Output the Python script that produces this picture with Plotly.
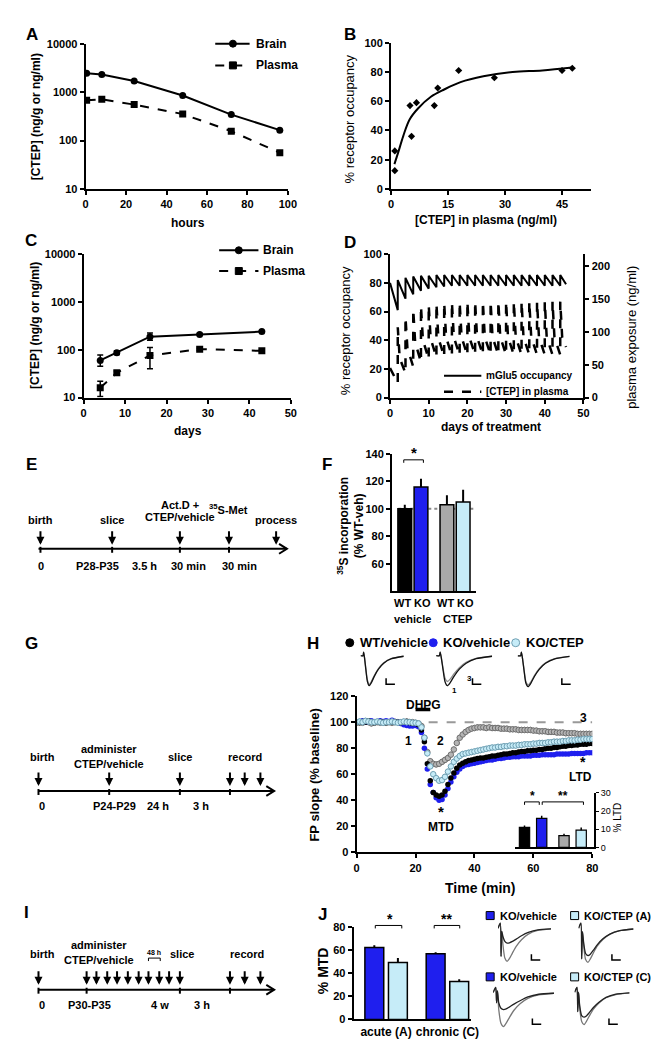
import plotly.graph_objects as go

W, H = 663, 1050
FONT = "Liberation Sans"
BLUE = "#1f1fee"
LIGHT = "#c6ecf8"
GRAY = "#a9a9a9"

# ---------------- data ----------------
# A: single dose, hours
A_HOURS = [0.5, 8, 24, 48, 72, 96]
A_BRAIN = [2440, 2320, 1690, 850, 343, 164]
A_PLASMA = [676, 710, 552, 352, 156, 56]

# B: occupancy vs plasma
B_CTEP = [1.0, 1.0, 5.0, 5.4, 6.7, 11.4, 12.3, 17.8, 27.2, 45.0, 47.7]
B_OCC = [26, 12.5, 57, 36, 59, 57, 69, 81, 76, 81, 82.5]
B_FIT_X = [0.9, 1.9, 3.2, 4.9, 7.1, 10.5, 14, 18.3, 24.3, 32, 39.8, 47.6]
B_FIT_Y = [17, 25, 36, 47.5, 55, 63, 68, 73, 77, 80, 81, 83]

# C: chronic dosing, days
C_DAYS = [4, 8, 16, 28, 43]
C_BRAIN = [60, 87, 188, 210, 240]
C_BRAIN_UP = [18, 8, 37, 8, 8]
C_BRAIN_DN = [15, 7, 30, 7, 7]
C_PLASMA = [16, 33, 76, 103, 95]
C_PLASMA_UP = [6, 3, 35, 5, 4]
C_PLASMA_DN = [5.5, 3, 36, 5, 4]

# D: simulated occupancy / plasma over treatment
D_DOSE_DAYS = [2, 4, 6, 8, 10, 12, 14, 16, 18, 20, 22, 24, 26, 28, 30, 32, 34, 36, 38, 40, 42, 44]
D_OCC_START = 80
D_OCC_TROUGH = [61, 69, 72, 74.5, 76, 77, 77.5, 78, 78, 78, 78, 78, 78, 78, 78, 78, 78, 78, 78, 78, 78, 78]
D_OCC_PEAK = [82, 83.5, 84.5, 85, 85, 85.5, 85.5, 85.5, 85.5, 85.5, 85.5, 85.5, 85.5, 85.5, 85.5, 85.5,
              85.5, 85.5, 85.5, 85.5, 85.5, 85.5]
D_OCC_END = (45.5, 79)
D_PL_START = 45
D_PL_TROUGH = [22, 37, 47, 54, 58, 61, 62, 63, 64, 64, 65, 65, 65, 65, 65, 65, 65, 65, 65, 65, 65, 65]
D_PL_PEAK = [107, 122, 134, 139, 141, 143, 144, 145, 145, 146, 146, 146, 146, 146, 146, 146, 146, 146,
             146, 146, 146, 146]
D_PL_KNEE = [60, 75, 84, 88, 90, 91, 92, 92, 92, 92, 92, 92, 92, 92, 92, 92, 92, 92, 92, 92, 92, 92]
D_PL_END = (45.5, 77)

# F: 35S incorporation
F_LABELS = ["WT", "KO", "WT", "KO"]
F_VALUES = [100, 116, 103, 105]
F_ERR = [3, 6, 7, 9]

# H: FP slope time course (1-min bins)
H_TIME = list(range(81))
H_WT_VEH = [100, 99.5, 100.5, 100, 101, 100, 99.5, 100, 100.5, 100,
            99.5, 100, 100, 100.5, 100, 99.5, 100, 100.5, 99.5, 99,
            99, 98, 94, 85, 68, 55, 46, 44, 43, 44,
            47, 52, 57, 61, 64.5, 67, 68.5, 69.5, 70.5, 71,
            71.5, 72, 72.5, 72.5, 73, 73.5, 74, 74, 74.5, 75,
            75.5, 75.5, 76, 76.5, 76.5, 77, 77.5, 77.5, 78, 78,
            78.5, 78.5, 79, 79, 79.5, 80, 80, 80.5, 80.5, 81,
            81.5, 81.5, 82, 82, 82.5, 82.5, 83, 83, 83, 83.5,
            83.5]
H_KO_VEH = [100, 100.5, 101, 100, 100.5, 101, 100, 100.5, 101, 100.5,
            101, 100.5, 101.5, 100.5, 100, 99, 98, 97.5, 97, 97,
            97.5, 96.5, 92, 80, 64, 52, 46, 42, 40, 40.5,
            44, 49, 54, 58, 61.5, 64, 66, 67, 67.5, 68,
            68.5, 69, 69.5, 70, 70.5, 71, 71, 71.5, 72, 72,
            72.5, 73, 73, 73.5, 73.5, 73.5, 74, 74, 74, 74,
            74.5, 74.5, 74.5, 75, 75, 75, 75, 75, 75.5, 75.5,
            75.5, 75.5, 75.5, 76, 76, 76, 76, 76, 76.5, 76.5,
            76.5]
H_KO_CTEP = [100, 100.5, 100, 101, 100.5, 100, 100, 100.5, 100, 99.5,
             100, 100, 100.5, 100, 99.5, 100, 100.5, 100, 100, 99.5,
             99.5, 99, 96, 88, 76, 66, 60, 57, 55, 55.5,
             58, 62, 66, 69.5, 72, 74, 75.5, 76, 76.5, 77,
             77.5, 78, 78.5, 79, 79.5, 80, 80.5, 80.5, 81, 81,
             81.5, 81.5, 82, 82, 82, 82.5, 82.5, 83, 83, 83,
             83.5, 83.5, 84, 84, 84, 84.5, 84.5, 85, 85, 85,
             85.5, 85.5, 86, 86, 86, 86.5, 86.5, 87, 87, 87,
             87]
H_WT_CTEP = [99.5, 100, 99.5, 100.5, 100, 99, 99.5, 100, 99.5, 100,
             99.5, 100, 99.5, 100, 100, 99.5, 100, 100.5, 100, 100,
             99.5, 99, 97, 88, 77, 70, 68, 67.5, 68, 69.5,
             71, 72.5, 75, 79, 84, 88, 90.5, 92.5, 94, 95,
             95.5, 96, 96, 96, 95.5, 96, 95.5, 95.5, 95.5, 95,
             95, 95, 94.5, 94.5, 94.5, 94, 94, 94, 94, 94,
             93.5, 93.5, 93, 93, 93, 92.5, 92.5, 92.5, 92, 92,
             92, 91.5, 91.5, 91.5, 91.5, 91, 91, 91, 91, 91,
             91]
H_SEM = 2.5
BASELINE = 100
DHPG_START, DHPG_END = 20, 25

# H inset: % LTD
LTD_VALUES = [11, 16, 6.5, 9.5]
LTD_ERR = [1, 1.5, 1, 1.5]

# J: % MTD
MTD_GROUPS = ["acute (A)", "chronic (C)"]
MTD_VALUES = [62.5, 49.5, 57, 33]
MTD_ERR = [2, 4, 1.5, 2]

# example sweeps (normalised amplitude)
WF_T_H = [0, 0.8, 1.0, 1.3, 1.7, 2.2, 2.8, 3.5, 4.5, 5.8, 7.5, 10, 14]
WF_WT_1 = [0, 0, 0.12, -0.08, -0.45, -0.85, -1.0, -0.9, -0.68, -0.45, -0.25, -0.1, -0.02]
WF_WT_3 = [0, 0, 0.12, -0.08, -0.42, -0.8, -0.96, -0.86, -0.65, -0.43, -0.24, -0.1, -0.02]
WF_KO_1 = [0, 0, 0.12, -0.08, -0.45, -0.86, -1.0, -0.9, -0.68, -0.45, -0.25, -0.1, -0.02]
WF_KO_3 = [0, 0, 0.12, -0.08, -0.4, -0.74, -0.86, -0.78, -0.6, -0.4, -0.22, -0.09, -0.02]
WF_CT_1 = [0, 0, 0.12, -0.08, -0.46, -0.88, -1.0, -0.9, -0.67, -0.44, -0.24, -0.1, -0.02]
WF_CT_3 = [0, 0, 0.12, -0.08, -0.43, -0.83, -0.94, -0.85, -0.64, -0.42, -0.23, -0.09, -0.02]

WF_T_J = [0, 0.6, 0.8, 1.0, 1.3, 1.8, 2.4, 3.0, 3.8, 4.8, 6.2, 8, 10.5, 14]
WF_JA_VEH_BIG = [0, 0.15, -0.85, -0.1, -0.5, -0.9, -1.0, -0.92, -0.75, -0.55, -0.35, -0.18, -0.07, -0.02]
WF_JA_VEH_SMALL = [0, 0.15, -0.85, -0.1, -0.25, -0.4, -0.45, -0.44, -0.4, -0.33, -0.23, -0.13, -0.05, -0.02]
WF_JA_CT_BIG = [0, 0.15, -0.9, -0.1, -0.5, -0.92, -1.0, -0.9, -0.72, -0.52, -0.33, -0.17, -0.07, -0.02]
WF_JA_CT_SMALL = [0, 0.15, -0.9, -0.1, -0.42, -0.74, -0.8, -0.76, -0.64, -0.48, -0.31, -0.17, -0.07, -0.02]
WF_JC_VEH_BIG = [0, 0.15, -0.3, 0.05, -0.5, -0.9, -1.0, -0.9, -0.72, -0.52, -0.33, -0.17, -0.07, -0.02]
WF_JC_VEH_SMALL = [0, 0.15, -0.3, 0.05, -0.3, -0.46, -0.5, -0.48, -0.42, -0.34, -0.24, -0.13, -0.05, -0.02]
WF_JC_CT_BIG = [0, 0.15, -0.6, 0.0, -0.5, -0.9, -1.0, -0.9, -0.72, -0.52, -0.33, -0.17, -0.07, -0.02]
WF_JC_CT_SMALL = [0, 0.15, -0.6, 0.0, -0.42, -0.72, -0.77, -0.73, -0.62, -0.47, -0.31, -0.16, -0.06, -0.02]

# ---------------- helpers ----------------
ann = []
shapes = []


def px(x):
    return x / W


def py(y):
    return 1 - y / H


def xd(a, b):
    return [a / W, b / W]


def yd(top, bottom):
    return [1 - bottom / H, 1 - top / H]


def txt(x, y, s, size=11, bold=True, angle=0, xanchor="center", color="black"):
    ann.append(dict(x=px(x), y=py(y), xref="paper", yref="paper", text=s, showarrow=False,
                    xanchor=xanchor, yanchor="middle", textangle=angle,
                    font=dict(family=FONT, size=size, color=color,
                              weight="bold" if bold else "normal")))


def seg(x0, y0, x1, y1, width=1.5, color="black", dash="solid"):
    shapes.append(dict(type="line", xref="paper", yref="paper", x0=px(x0), y0=py(y0),
                       x1=px(x1), y1=py(y1), line=dict(color=color, width=width, dash=dash)))


def path(points, width=1.5, color="black"):
    d = "M" + " L".join(f"{px(a):.5f},{py(b):.5f}" for a, b in points)
    shapes.append(dict(type="path", xref="paper", yref="paper", path=d,
                       line=dict(color=color, width=width)))


def dot(x, y, r, fill, edge="black", kind="circle"):
    shapes.append(dict(type=kind, xref="paper", yref="paper", xsizemode="pixel", ysizemode="pixel",
                       xanchor=px(x), yanchor=py(y), x0=-r, x1=r, y0=-r, y1=r,
                       fillcolor=fill, line=dict(color=edge, width=1)))


def down_arrow(x, tip, length=15):
    ann.append(dict(x=px(x), y=py(tip), xref="paper", yref="paper", ax=0, ay=-length, text="",
                    showarrow=True, arrowhead=2, arrowwidth=2, arrowsize=0.8, arrowcolor="black"))


def timeline(y, x0, x1, ticks):
    seg(x0, y, x1, y, width=2)
    path([(x1 - 8, y - 5), (x1, y), (x1 - 8, y + 5)], width=2)
    for t in ticks:
        seg(t, y - 2, t, y + 4, width=2)


def scalebar(x, y):
    path([(x, y - 6), (x, y), (x + 9, y)], width=1.5)


def bracket(x0, x1, y):
    path([(x0, y + 3), (x0, y), (x1, y), (x1, y + 3)], width=1)


def axis(**kw):
    d = dict(showline=True, linecolor="black", linewidth=2, ticks="outside", ticklen=4,
             tickwidth=2, tickcolor="black", showgrid=False, zeroline=False, fixedrange=True,
             tickfont=dict(family=FONT, size=11, color="black", weight="bold"))
    d.update(kw)
    return d


def hidden(**kw):
    d = dict(visible=False, fixedrange=True)
    d.update(kw)
    return d


fig = go.Figure()

# ---------------- A ----------------
fig.add_trace(go.Scatter(x=A_HOURS, y=A_BRAIN, mode="lines+markers", xaxis="x", yaxis="y",
                         line=dict(color="black", width=2), marker=dict(symbol="circle", size=7, color="black")))
fig.add_trace(go.Scatter(x=A_HOURS, y=A_PLASMA, mode="lines+markers", xaxis="x", yaxis="y",
                         line=dict(color="black", width=2, dash="dash"),
                         marker=dict(symbol="square", size=7, color="black")))

# ---------------- B ----------------
fig.add_trace(go.Scatter(x=B_FIT_X, y=B_FIT_Y, mode="lines", xaxis="x2", yaxis="y2",
                         line=dict(color="black", width=2, shape="spline")))
fig.add_trace(go.Scatter(x=B_CTEP, y=B_OCC, mode="markers", xaxis="x2", yaxis="y2",
                         marker=dict(symbol="diamond", size=5.5, color="black")))

# ---------------- C ----------------
fig.add_trace(go.Scatter(x=C_DAYS, y=C_BRAIN, mode="lines+markers", xaxis="x3", yaxis="y3",
                         line=dict(color="black", width=2), marker=dict(symbol="circle", size=7, color="black"),
                         error_y=dict(type="data", array=C_BRAIN_UP, arrayminus=C_BRAIN_DN,
                                      color="black", thickness=1.5, width=3)))
fig.add_trace(go.Scatter(x=C_DAYS, y=C_PLASMA, mode="lines+markers", xaxis="x3", yaxis="y3",
                         line=dict(color="black", width=2, dash="dash"),
                         marker=dict(symbol="square", size=7, color="black"),
                         error_y=dict(type="data", array=C_PLASMA_UP, arrayminus=C_PLASMA_DN,
                                      color="black", thickness=1.5, width=3)))

# ---------------- D ----------------
occ_x, occ_y = [0], [D_OCC_START]
for day, lo, hi in zip(D_DOSE_DAYS, D_OCC_TROUGH, D_OCC_PEAK):
    occ_x += [day, day]
    occ_y += [lo, hi]
occ_x.append(D_OCC_END[0])
occ_y.append(D_OCC_END[1])
pl_x, pl_y = [0], [D_PL_START]
for day, lo, hi, knee in zip(D_DOSE_DAYS, D_PL_TROUGH, D_PL_PEAK, D_PL_KNEE):
    pl_x += [day, day, day + 0.5]
    pl_y += [lo, hi, knee]
pl_x.append(D_PL_END[0])
pl_y.append(D_PL_END[1])
fig.add_trace(go.Scatter(x=pl_x, y=pl_y, mode="lines", xaxis="x4", yaxis="y5",
                         line=dict(color="black", width=2.5, dash="dash")))
fig.add_trace(go.Scatter(x=occ_x, y=occ_y, mode="lines", xaxis="x4", yaxis="y4",
                         line=dict(color="black", width=2)))

# ---------------- F ----------------
F_POS = [1, 2, 3.6, 4.6]
fig.add_trace(go.Bar(x=F_POS, y=F_VALUES, xaxis="x6", yaxis="y6", width=0.85,
                     marker=dict(color=["black", BLUE, GRAY, LIGHT], line=dict(color="black", width=1.5)),
                     error_y=dict(type="data", array=F_ERR, arrayminus=[0] * 4, symmetric=False,
                                  color="black", thickness=2, width=0)))

# ---------------- H ----------------
fig.add_trace(go.Scatter(x=H_TIME, y=H_WT_CTEP, mode="markers", xaxis="x7", yaxis="y7",
                         marker=dict(size=5.5, color="#b4b4b4", line=dict(color="#6e6e6e", width=1)),
                         error_y=dict(type="constant", value=H_SEM, color="#b4b4b4", thickness=1, width=0)))
fig.add_trace(go.Scatter(x=H_TIME, y=H_KO_VEH, mode="markers", xaxis="x7", yaxis="y7",
                         marker=dict(size=5.5, color=BLUE)))
fig.add_trace(go.Scatter(x=H_TIME, y=H_WT_VEH, mode="markers", xaxis="x7", yaxis="y7",
                         marker=dict(size=5.5, color="black")))
fig.add_trace(go.Scatter(x=H_TIME, y=H_KO_CTEP, mode="markers", xaxis="x7", yaxis="y7",
                         marker=dict(size=5.5, color=LIGHT, line=dict(color="#6f9fb2", width=1)),
                         error_y=dict(type="constant", value=H_SEM, color="#9fd3ea", thickness=1, width=0)))
shapes.append(dict(type="line", xref="x7", yref="y7", x0=0, x1=80, y0=BASELINE, y1=BASELINE,
                   line=dict(color="#999999", width=2, dash="dash"), layer="below"))
shapes.append(dict(type="rect", xref="x7", yref="y7", x0=DHPG_START, x1=DHPG_END, y0=108.4, y1=111,
                   fillcolor="black", line=dict(width=0)))

# H inset
LTD_POS = [1, 2, 3.3, 4.3]
fig.add_trace(go.Bar(x=LTD_POS, y=LTD_VALUES, xaxis="x8", yaxis="y8", width=0.6,
                     marker=dict(color=["black", BLUE, GRAY, LIGHT], line=dict(color="black", width=1.2)),
                     error_y=dict(type="data", array=LTD_ERR, arrayminus=[0] * 4, symmetric=False,
                                  color="black", thickness=1.5, width=0)))

# ---------------- J ----------------
MTD_POS = [1, 2, 3.6, 4.6]
fig.add_trace(go.Bar(x=MTD_POS, y=MTD_VALUES, xaxis="x9", yaxis="y9", width=0.8,
                     marker=dict(color=[BLUE, LIGHT, BLUE, LIGHT], line=dict(color="black", width=1.5)),
                     error_y=dict(type="data", array=MTD_ERR, arrayminus=[0] * 4, symmetric=False,
                                  color="black", thickness=2, width=0)))

# sweeps
sweeps = [
    ("10", WF_T_H, WF_WT_3, "#8c8c8c"), ("10", WF_T_H, WF_WT_1, "#111111"),
    ("11", WF_T_H, WF_KO_3, "#8c8c8c"), ("11", WF_T_H, WF_KO_1, "#111111"),
    ("12", WF_T_H, WF_CT_3, "#8c8c8c"), ("12", WF_T_H, WF_CT_1, "#111111"),
    ("13", WF_T_J, WF_JA_VEH_BIG, "#777777"), ("13", WF_T_J, WF_JA_VEH_SMALL, "#222222"),
    ("14", WF_T_J, WF_JA_CT_BIG, "#777777"), ("14", WF_T_J, WF_JA_CT_SMALL, "#222222"),
    ("15", WF_T_J, WF_JC_VEH_BIG, "#777777"), ("15", WF_T_J, WF_JC_VEH_SMALL, "#222222"),
    ("16", WF_T_J, WF_JC_CT_BIG, "#777777"), ("16", WF_T_J, WF_JC_CT_SMALL, "#222222"),
]
for k, t, v, c in sweeps:
    fig.add_trace(go.Scatter(x=t, y=v, mode="lines", xaxis="x" + k, yaxis="y" + k,
                             line=dict(color=c, width=1.3, shape="spline", smoothing=0.6)))

# ---------------- axes ----------------
log_ticks = dict(type="log", range=[1, 4], tickvals=[10, 100, 1000, 10000],
                 ticktext=["10", "100", "1000", "10000"])
layout_axes = dict(
    xaxis=axis(domain=xd(76, 282), range=[0, 100], dtick=20, anchor="y"),
    yaxis=axis(domain=yd(30, 177), anchor="x", **log_ticks),
    xaxis2=axis(domain=xd(387, 591), range=[0, 52.7], dtick=15, anchor="y2"),
    yaxis2=axis(domain=yd(29, 177), range=[0, 100], dtick=20, anchor="x2"),
    xaxis3=axis(domain=xd(74, 285), range=[0, 50], dtick=10, anchor="y3"),
    yaxis3=axis(domain=yd(243, 388), anchor="x3", **log_ticks),
    xaxis4=axis(domain=xd(386, 583), range=[0, 50], dtick=10, anchor="y4"),
    yaxis4=axis(domain=yd(243, 388), range=[0, 100], dtick=20, anchor="x4"),
    yaxis5=axis(domain=yd(243, 388), range=[0, 218], tickvals=[0, 50, 100, 150, 200], anchor="x4",
                overlaying="y4", side="right"),
    xaxis6=axis(domain=xd(388, 474), range=[0.21, 5.42], showticklabels=False,
                ticks="", anchor="y6"),
    yaxis6=axis(domain=yd(445, 584), range=[40, 140], tickvals=[60, 80, 100, 120, 140], anchor="x6"),
    xaxis7=axis(domain=xd(352, 592), range=[0, 80], dtick=20, anchor="y7"),
    yaxis7=axis(domain=yd(690, 848), range=[0, 120], dtick=20, anchor="x7"),
    xaxis8=axis(domain=xd(513, 594), range=[0.43, 5.06], ticks="", showticklabels=False,
                anchor="y8", linewidth=1.5),
    yaxis8=axis(domain=yd(788, 843), range=[0, 30], tickvals=[0, 10, 20, 30], side="right",
                anchor="x8", linewidth=1.5, ticklen=3, tickwidth=1,
                tickfont=dict(family=FONT, size=9, color="black")),
    xaxis9=axis(domain=xd(349, 468), range=[0.125, 5.08], tickvals=[1.5, 4.1], ticktext=MTD_GROUPS,
                ticks="", anchor="y9", tickfont=dict(family=FONT, size=12, color="black", weight="bold")),
    yaxis9=axis(domain=yd(924, 1017), range=[0, 80], dtick=20, anchor="x9"),
)
sweep_boxes = {
    "10": (356, 400, 643, 681), "11": (433, 490, 643, 681), "12": (516, 569, 643, 682),
    "13": (496, 550, 918, 960), "14": (578, 634, 918, 961),
    "15": (491, 553, 983, 1026), "16": (574, 630, 983, 1024),
}
for k, (x0, x1, y0, y1) in sweep_boxes.items():
    layout_axes["xaxis" + k] = hidden(domain=xd(x0, x1), anchor="y" + k)
    layout_axes["yaxis" + k] = hidden(domain=yd(y0, y1), range=[-1.05, 0.2], anchor="x" + k)

# ---------------- text & decorations ----------------
for letter, x, y in [("A", 21, 21), ("B", 345, 21), ("C", 20, 229), ("D", 345, 231), ("E", 21, 456),
                     ("F", 322, 456), ("G", 21, 637), ("H", 308, 637), ("I", 16, 909), ("J", 317, 911)]:
    txt(x, y, letter, size=17)

# A
txt(25, 104, "[CTEP] (ng/g or ng/ml)", size=12, angle=-90)
txt(180, 211, "hours", size=12)
seg(208, 30, 243, 30, width=2)
dot(226, 30, 3.5, "black")
txt(247, 30, "Brain", size=12, xanchor="left")
seg(208, 52, 243, 52, width=2, dash="dash")
dot(226, 52, 3.5, "black", kind="rect")
txt(247, 52, "Plasma", size=12, xanchor="left")

# B
txt(345, 106, "% receptor occupancy", size=13, bold=False, angle=-90)
txt(484, 208, "[CTEP] in plasma (ng/ml)", size=12)

# C
txt(25, 315, "[CTEP] (ng/g or ng/ml)", size=12, angle=-90)
txt(180, 422, "days", size=12)
seg(212, 239, 252, 239, width=2)
dot(232, 239, 3.5, "black")
txt(255, 239, "Brain", size=12, xanchor="left")
seg(212, 260, 252, 260, width=2, dash="dash")
dot(232, 260, 3.5, "black", kind="rect")
txt(255, 260, "Plasma", size=12, xanchor="left")

# D
txt(341, 320, "% receptor occupancy", size=13, bold=False, angle=-90)
txt(632, 327, "plasma exposure (ng/ml)", size=13, bold=False, angle=-90)
txt(489, 418, "days of treatment", size=12)
seg(441, 366, 479, 366, width=2)
txt(482, 366, "mGlu5 occupancy", size=10, xanchor="left")
seg(441, 382, 479, 382, width=2.5, dash="dash")
txt(482, 382, "[CTEP] in plasma", size=10, xanchor="left")

# E timeline
timeline(541, 28, 281, [30, 103, 172, 222])
for xa in [30, 103, 172, 222, 270]:
    down_arrow(xa, 537)
txt(30, 512, "birth")
txt(103, 512, "slice")
txt(172, 497, "Act.D +")
txt(172, 509, "CTEP/vehicle")
txt(222, 501, "<sup>35</sup>S-Met")
txt(270, 512, "process")
for lab, xl in [("0", 31), ("P28-P35", 88), ("3.5 h", 136), ("30 min", 181), ("30 min", 233)]:
    txt(xl, 558, lab)

# F
txt(346, 518, "<sup>35</sup>S incorporation<br>(% WT-veh)", size=12, angle=-90)
shapes.append(dict(type="line", xref="x6", yref="y6", x0=0.6, x1=5.3, y0=BASELINE, y1=BASELINE,
                   line=dict(color="#888888", width=2, dash="dot"), layer="below"))
bracket(400, 420, 451)
txt(410, 444, "*", size=15)
for lab, xl in zip(F_LABELS, [399, 419, 442, 463]):
    txt(xl, 596, lab, size=11)
txt(409, 612, "vehicle", size=11)
txt(455, 612, "CTEP", size=11)

# G timeline
timeline(786, 28, 268, [28, 100, 172, 223])
for xa in [28, 100, 172, 223, 238, 254]:
    down_arrow(xa, 781)
txt(32, 752, "birth")
txt(100, 744, "administer")
txt(100, 759, "CTEP/vehicle")
txt(172, 752, "slice")
txt(238, 752, "record")
for lab, xl in [("0", 32), ("P24-P29", 105), ("24 h", 150), ("3 h", 193)]:
    txt(xl, 801, lab)

# H
dot(345, 636, 4, "black")
txt(353, 636, "WT/vehicle", size=13, xanchor="left")
dot(430, 636, 4, BLUE, edge=BLUE)
txt(438, 636, "KO/vehicle", size=13, xanchor="left")
dot(514, 636, 4, LIGHT, edge="#6f9fb2")
txt(522, 636, "KO/CTEP", size=13, xanchor="left")
for xs in [382, 470, 561]:
    scalebar(xs, 678)
txt(467, 672, "3", size=8)
txt(452, 684, "1", size=8)
txt(309, 770, "FP slope (% baseline)", size=13, angle=-90)
txt(478, 884, "Time (min)", size=14)
txt(420, 699, "DHPG", size=12)
txt(405, 735, "1", size=12)
txt(437, 735, "2", size=12)
txt(583, 712, "3", size=12)
txt(438, 807, "*", size=15)
txt(438, 822, "MTD", size=12)
txt(583, 757, "*", size=14)
txt(580, 772, "LTD", size=12)
bracket(523, 538, 797)
txt(531, 791, "*", size=12)
bracket(541, 583, 797)
txt(562, 791, "**", size=12)
txt(618, 813, "% LTD", size=10, bold=False, angle=-90)

# I timeline
timeline(987, 28, 268, [28, 77, 172, 223])
for xa in [28, 77, 87, 98, 108, 119, 130, 140, 151, 161, 172, 223, 238, 254]:
    down_arrow(xa, 982)
txt(32, 951, "birth")
txt(90, 942, "administer")
txt(90, 957, "CTEP/vehicle")
txt(146, 949, "48 h", size=7)
bracket(140, 152, 955)
txt(174, 951, "slice")
txt(240, 951, "record")
for lab, xl in [("0", 32), ("P30-P35", 80), ("4 w", 152), ("3 h", 195)]:
    txt(xl, 1002, lab)

# J
txt(318, 968, "% MTD", size=14, angle=-90)
bracket(371, 398, 922)
txt(386, 915, "*", size=14)
bracket(431, 457, 922)
txt(444, 915, "**", size=14)
for yy, tag in [(912, "A"), (974, "C")]:
    dot(488, yy, 4, BLUE, kind="rect")
    txt(496, yy, "KO/vehicle", size=11, xanchor="left")
    dot(574, yy, 4, LIGHT, kind="rect")
    txt(582, yy, f"KO/CTEP ({tag})", size=11, xanchor="left")
for xs, ys in [(530, 957), (612, 957), (531, 1022), (609, 1022)]:
    scalebar(xs, ys)

fig.update_layout(
    width=W, height=H, autosize=False,
    margin=dict(l=0, r=0, t=0, b=0),
    paper_bgcolor="white", plot_bgcolor="white",
    showlegend=False, barmode="overlay",
    font=dict(family=FONT, color="black"),
    annotations=ann, shapes=shapes,
    **layout_axes,
)

fig.write_html("out.html")
